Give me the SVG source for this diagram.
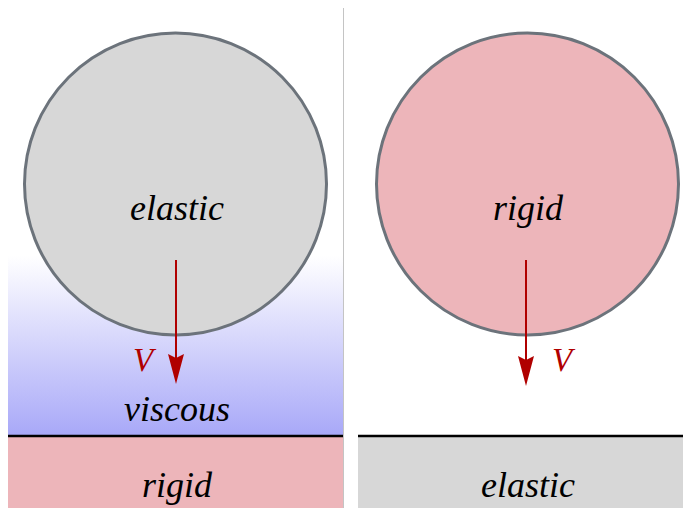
<svg xmlns="http://www.w3.org/2000/svg" width="683" height="508" viewBox="0 0 683 508">
<defs>
<linearGradient id="visc" x1="0" y1="0" x2="0" y2="1">
<stop offset="0" stop-color="#ffffff"/>
<stop offset="1" stop-color="#a8a8f8"/>
</linearGradient>
<style>
.lbl{font-family:"Liberation Serif","DejaVu Serif",serif;font-style:italic;font-size:36px;fill:#000;text-anchor:middle}
.v{font-family:"Liberation Serif","DejaVu Serif",serif;font-style:italic;font-size:33px;fill:#b00000;text-anchor:middle}
.ball{stroke:#6c737b;stroke-width:3}
.arrow{stroke:#b00000;stroke-width:2;fill:none}
.head{fill:#b00000}
</style>
</defs>
<rect width="683" height="508" fill="#ffffff"/>
<g id="left-panel">
<rect x="8" y="256" width="335" height="180" fill="url(#visc)"/>
<rect x="8" y="437" width="335" height="71" fill="#edb5ba"/>
<line x1="8" y1="436" x2="343" y2="436" stroke="#000" stroke-width="2.5"/>
<line x1="343.5" y1="8" x2="343.5" y2="508" stroke="#c4c4c4" stroke-width="1"/>
</g>
<g id="right-panel">
<rect x="358" y="437" width="325" height="71" fill="#d7d7d7"/>
<line x1="358" y1="436" x2="683" y2="436" stroke="#000" stroke-width="2.5"/>
</g>
<g id="elastic-ball">
<circle class="ball" cx="175.5" cy="184" r="151" fill="#d7d7d7"/>
<text class="lbl" x="177" y="220">elastic</text>
</g>
<g id="rigid-ball">
<circle class="ball" cx="527.5" cy="184" r="151" fill="#edb5ba"/>
<text class="lbl" x="528" y="220">rigid</text>
</g>
<g id="labels">
<text class="lbl" x="177" y="421">viscous</text>
<text class="lbl" x="177" y="497">rigid</text>
<text class="lbl" x="528" y="497">elastic</text>
<text class="v" x="143" y="371">V</text>
<text class="v" x="562" y="371">V</text>
</g>
<g id="connectors">
<line class="arrow" x1="176" y1="260" x2="176" y2="360"/>
<path class="head" d="M168,354 L176,358 L184,354 L176,384 Z"/>
<line class="arrow" x1="526" y1="260" x2="526" y2="362"/>
<path class="head" d="M518,356 L526,360 L534,356 L526,386 Z"/>
</g>
</svg>
